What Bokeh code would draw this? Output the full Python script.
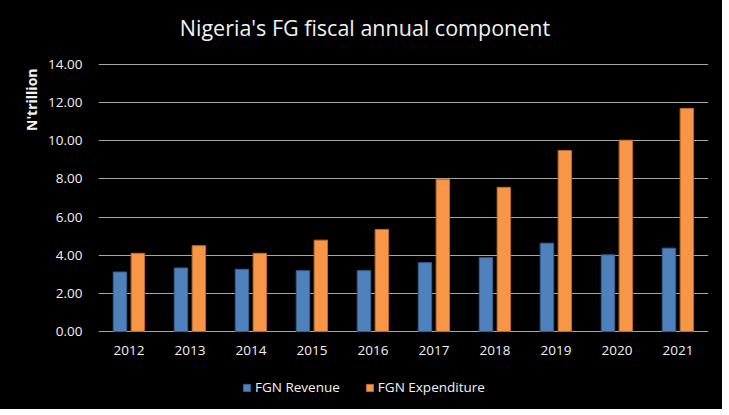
from bokeh.plotting import figure
from bokeh.models import (FactorRange, Range1d, FixedTicker, NumeralTickFormatter,
                          Title, Label, Legend, LegendItem, ColumnDataSource)
from bokeh.transform import dodge
from bokeh.core.properties import value
from bokeh.embed import file_html
from bokeh.resources import INLINE

# ---- data (N'trillion) ----
years = ["2012", "2013", "2014", "2015", "2016", "2017", "2018", "2019", "2020", "2021"]
fgn_revenue = [3.12, 3.33, 3.26, 3.19, 3.19, 3.61, 3.87, 4.63, 4.02, 4.37]
fgn_expenditure = [4.10, 4.50, 4.10, 4.79, 5.35, 7.98, 7.56, 9.49, 10.03, 11.70]
y_ticks = [0, 2, 4, 6, 8, 10, 12, 14]
title_text = "Nigeria's FG fiscal annual component"
y_title = "N'trillion"
series_names = ["FGN Revenue", "FGN Expenditure"]

FONT = "Open Sans"
TXT = "#f2f2f2"
GRID = "#a6a6a6"
BLUE, BLUE_EDGE = "#4F81BD", "#35608F"
ORANGE, ORANGE_EDGE = "#F79646", "#C0692A"

# layout: frame spans whole canvas height (409 px); value axis 0..14 occupies 267 px
FRAME_H = 409
PX_PER_UNIT = 267 / 14
Y_MAX = 14 + 64 / PX_PER_UNIT
Y_MIN = -(FRAME_H - 331) / PX_PER_UNIT

source = ColumnDataSource(data=dict(year=years, rev=fgn_revenue, exp=fgn_expenditure,
                                    lab_y=[-19 / PX_PER_UNIT] * len(years)))

p = figure(frame_width=610, frame_height=FRAME_H, output_backend="svg", toolbar_location=None,
           x_range=FactorRange(factors=years), y_range=Range1d(Y_MIN, Y_MAX),
           x_axis_location=None,
           min_border_left=98, min_border_right=14, min_border_top=0, min_border_bottom=0)
p.background_fill_color = "black"
p.border_fill_color = "black"
p.outline_line_color = None
p.styles = {"background-color": "black"}

ytitle = Title(text=y_title, align="right", standoff=9, offset=68,
               text_font=FONT, text_font_size="14px", text_font_style="bold", text_color=TXT)
p.add_layout(ytitle, "left")

r1 = p.vbar(x=dodge("year", -0.148, range=p.x_range), top="rev", width=0.22, source=source,
            fill_color=BLUE, line_color=BLUE_EDGE, line_width=1)
r2 = p.vbar(x=dodge("year", 0.145, range=p.x_range), top="exp", width=0.22, source=source,
            fill_color=ORANGE, line_color=ORANGE_EDGE, line_width=1)

# category labels under the zero line
p.text(x="year", y="lab_y", text="year", source=source, text_font=value(FONT),
       text_font_size="13.5px", text_color=TXT, text_align="center", text_baseline="middle")

p.yaxis.ticker = FixedTicker(ticks=y_ticks)
p.yaxis.formatter = NumeralTickFormatter(format="0.00")
p.yaxis.axis_line_color = None
p.yaxis.major_tick_line_color = None
p.yaxis.minor_tick_line_color = None
p.yaxis.major_label_standoff = 10
p.yaxis.major_label_text_color = TXT
p.yaxis.major_label_text_font = FONT
p.yaxis.major_label_text_font_size = "13.5px"

p.xgrid.grid_line_color = None
p.ygrid.ticker = FixedTicker(ticks=y_ticks)
p.ygrid.grid_line_color = GRID
p.ygrid.grid_line_width = 1

# chart title
p.add_layout(Label(x=(364.5 - 98) / 61.0, y=14 + 37 / PX_PER_UNIT, text=title_text,
                   text_font=FONT, text_font_size="21.5px", text_color=TXT,
                   text_align="center", text_baseline="middle"))

legend = Legend(items=[LegendItem(label=series_names[0], renderers=[r1]),
                       LegendItem(label=series_names[1], renderers=[r2])],
                orientation="horizontal", location=(144, 13),
                glyph_width=9, glyph_height=9, label_standoff=4, spacing=25,
                padding=0, margin=0, label_height=9,
                label_text_font=FONT, label_text_font_size="13.5px", label_text_color=TXT,
                background_fill_alpha=0, border_line_color=None)
p.add_layout(legend, "center")

open("out.html", "w").write(file_html(p, INLINE))
